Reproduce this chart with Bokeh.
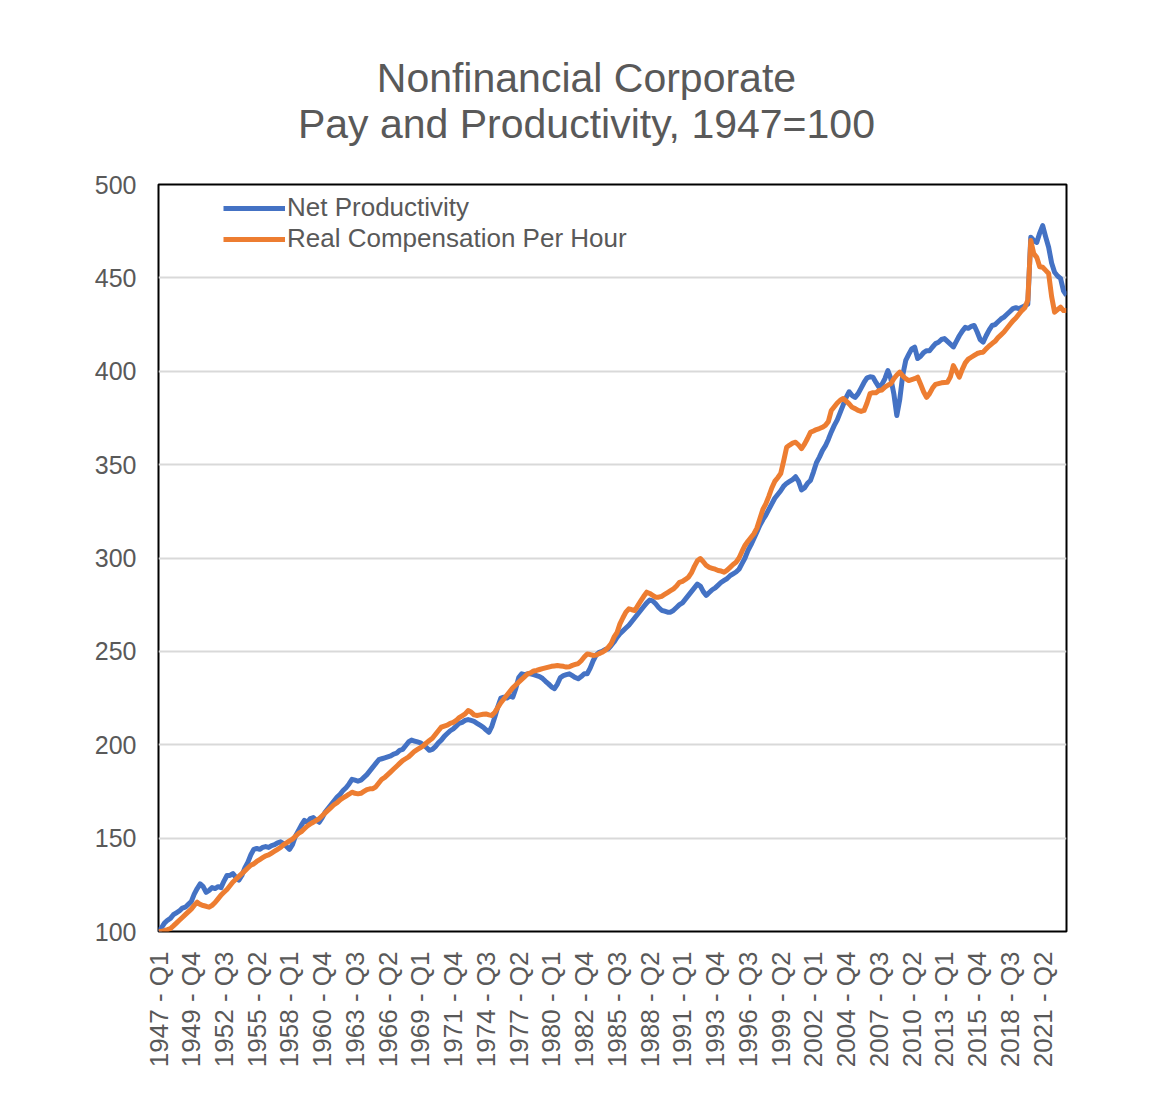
import math
from bokeh.plotting import figure
from bokeh.layouts import column
from bokeh.models import Range1d, FixedTicker, Legend, LegendItem
from bokeh.core.properties import value
from bokeh.embed import file_html
from bokeh.resources import INLINE

# ---- data (quarterly, 1947 Q1 .. 2023 Q2), index 1947 = 100 ----
net_productivity = [
    100, 102, 104.5, 106,          # 1947
    107, 109, 110, 111,            # 1948
    112.5, 113, 114.5, 116,        # 1949
    120, 123, 125.5, 124,          # 1950
    121, 122, 123.5, 123,          # 1951
    124, 123.5, 127, 130,          # 1952
    130, 131, 129, 127.5,          # 1953
    130, 134, 137, 141,            # 1954
    144, 144.5, 144, 145,          # 1955
    145.5, 145, 146, 146.5,        # 1956
    147.5, 148, 147, 145.5,        # 1957
    144, 146.5, 151, 154,          # 1958
    157, 159.5, 158.5, 160.5,      # 1959
    161, 159.5, 158.5, 161,        # 1960
    164, 166, 168, 170,            # 1961
    172, 173.5, 175.5, 177,        # 1962
    179, 181.5, 181, 180.5,        # 1963
    181, 182.5, 184, 186,          # 1964
    188, 190, 192, 192.5,          # 1965
    193, 193.5, 194, 195,          # 1966
    195.5, 197, 197.5, 199.5,      # 1967
    201.5, 202.5, 202, 201.5,      # 1968
    201, 200, 198.5, 197,          # 1969
    197.5, 199, 201, 202.5,        # 1970
    204.5, 206, 207.5, 208.5,      # 1971
    210, 211.5, 212, 213,          # 1972
    213.5, 213, 212.5, 211.5,      # 1973
    210.5, 209.5, 208, 206.7,      # 1974
    210, 215, 220.5, 225,          # 1975
    225.5, 225, 226, 225.5,        # 1976
    230, 236, 238, 237.5,          # 1977
    238, 238, 237.5, 237,          # 1978
    236.5, 235.5, 234, 232.6,      # 1979
    231, 230, 232.5, 236,          # 1980
    237, 237.5, 238, 237,          # 1981
    236, 235.3, 236.5, 238,        # 1982
    238, 241, 245, 248,            # 1983
    249.5, 250, 251, 251.3,        # 1984
    253, 255, 257.5, 259.5,        # 1985
    261, 262.5, 264, 266,          # 1986
    268, 270, 272, 274,            # 1987
    276, 277.5, 277, 275.5,        # 1988
    273.5, 272, 271.5, 271,        # 1989
    271, 272, 273.5, 275,          # 1990
    276, 278, 280, 282,            # 1991
    284, 286, 285, 282,            # 1992
    280, 281.5, 283, 284,          # 1993
    285.5, 287, 288, 289,          # 1994
    290.5, 291.5, 292.5, 294,      # 1995
    297, 300, 304, 307,            # 1996
    310.5, 314, 317.5, 320.5,      # 1997
    323, 326, 329, 332,            # 1998
    334, 336, 338.5, 340,          # 1999
    341, 342, 343.5, 341,          # 2000
    336.5, 337.5, 340, 341.5,      # 2001
    346, 351, 354, 357.5,          # 2002
    360, 363.5, 367.5, 371,        # 2003
    374, 378, 382, 386,            # 2004
    389, 387, 386, 388,            # 2005
    391, 394, 396.5, 397,          # 2006
    396.8, 394, 391.5, 393,        # 2007
    396, 400.4, 396, 388,          # 2008
    376.3, 385, 398, 405.8,        # 2009
    409, 412, 412.9, 406.8,        # 2010
    408, 410, 411, 411,            # 2011
    413, 414.8, 415.5, 417,        # 2012
    417.5, 416, 414.5, 413,        # 2013
    416, 419, 421.5, 423.5,        # 2014
    423, 424, 424.5, 421,          # 2015
    417, 415.6, 419, 422,          # 2016
    424.5, 425, 426.5, 428,        # 2017
    429, 430.5, 432, 433.5,        # 2018
    434, 433.5, 434.3, 435,        # 2019
    436, 471.8, 470, 469,          # 2020
    474, 478, 472, 466.4,          # 2021
    458, 453, 451, 449.7,          # 2022
    443, 440.6,                    # 2023
]

real_comp_per_hour = [
    100, 100, 100.5, 101,          # 1947
    101.6, 103, 104.5, 106,        # 1948
    107.5, 109, 110.5, 112,        # 1949
    114, 115.7, 114.5, 113.9,      # 1950
    113.5, 113, 114, 115.5,        # 1951
    117.5, 119.5, 121, 122.5,      # 1952
    124.5, 126.5, 128, 129.5,      # 1953
    131, 132.5, 134, 135.5,        # 1954
    136.2, 137.5, 138.5, 139.5,    # 1955
    140.5, 141, 142, 143,          # 1956
    144, 145, 146.5, 147.5,        # 1957
    148.5, 149.5, 151, 152.5,      # 1958
    153.5, 155, 156.5, 157.6,      # 1959
    158.5, 159.5, 160.5, 162,      # 1960
    163.5, 165, 166.5, 168,        # 1961
    169, 170.5, 171.5, 172.5,      # 1962
    173.5, 174.6, 174, 173.7,      # 1963
    174, 175, 176, 176.4,          # 1964
    176.5, 177.5, 179.5, 181.5,    # 1965
    182.5, 184, 185.5, 187,        # 1966
    188.5, 190, 191.5, 192.5,      # 1967
    193.5, 195, 196.5, 197.5,      # 1968
    198.5, 199.5, 201, 202.3,      # 1969
    203.5, 205.5, 207.5, 209.4,    # 1970
    210, 210.5, 211.5, 212,        # 1971
    213, 214.5, 215.5, 216.5,      # 1972
    218.3, 217.5, 216, 215.7,      # 1973
    216, 216.3, 216.5, 216,        # 1974
    215.7, 217.5, 220, 222.5,      # 1975
    224.5, 226.5, 228.5, 230.5,    # 1976
    232, 233.5, 235, 236.5,        # 1977
    238, 238.5, 239.5, 239.8,      # 1978
    240.3, 240.8, 241.2, 241.6,    # 1979
    242, 242.2, 242.4, 242.2,      # 1980
    242, 241.6, 241.8, 242.5,      # 1981
    243, 243.5, 245, 247,          # 1982
    248.6, 248.3, 247.8, 248,      # 1983
    248.8, 249.5, 250.5, 252,      # 1984
    254, 257.6, 260, 264.7,        # 1985
    268, 271, 272.8, 272.3,        # 1986
    271.9, 274.5, 277, 279.5,      # 1987
    281.7, 281, 280, 279,          # 1988
    279, 279.5, 280.5, 281.5,      # 1989
    282.5, 283.5, 285, 287,        # 1990
    287.5, 288.5, 289.7, 292,      # 1991
    295.5, 298.5, 299.7, 298,      # 1992
    296, 295, 294.5, 294,          # 1993
    293.3, 293, 292.4, 293.5,      # 1994
    295, 296.5, 297.7, 300,        # 1995
    303.5, 306.7, 309, 311,        # 1996
    313, 316, 321, 326,            # 1997
    329, 333, 337.5, 341,          # 1998
    343, 345.2, 352, 359.3,        # 1999
    360.5, 361.5, 362, 360.5,      # 2000
    358.6, 361, 364, 367.3,        # 2001
    368, 368.8, 369.3, 370,        # 2002
    371, 373, 379, 381,            # 2003
    383, 384.5, 385.4, 384,        # 2004
    382.5, 380.7, 380, 379,        # 2005
    378.5, 379, 383, 388,          # 2006
    388.5, 388.5, 389.7, 390,      # 2007
    391.5, 392.5, 393.4, 396,      # 2008
    398, 399.5, 397.5, 396,        # 2009
    395, 395.5, 396, 396.8,        # 2010
    393, 389, 386, 388,            # 2011
    391, 393, 393.4, 393.8,        # 2012
    394, 394.1, 397, 403,          # 2013
    400, 396.8, 401, 404.5,        # 2014
    406.5, 407.5, 408.5, 409.5,    # 2015
    410, 410.2, 412, 413.5,        # 2016
    414.8, 416, 418, 419.5,        # 2017
    421, 423, 425, 427,            # 2018
    428.5, 430.5, 432.5, 434,      # 2019
    438, 470, 463, 461,            # 2020
    456, 455.7, 454, 452.3,        # 2021
    440, 431.6, 433, 434.3,        # 2022
    432.5, 432.5,                  # 2023
]

tick_labels = [
    "1947 - Q1", "1949 - Q4", "1952 - Q3", "1955 - Q2", "1958 - Q1", "1960 - Q4",
    "1963 - Q3", "1966 - Q2", "1969 - Q1", "1971 - Q4", "1974 - Q3", "1977 - Q2",
    "1980 - Q1", "1982 - Q4", "1985 - Q3", "1988 - Q2", "1991 - Q1", "1993 - Q4",
    "1996 - Q3", "1999 - Q2", "2002 - Q1", "2004 - Q4", "2007 - Q3", "2010 - Q2",
    "2013 - Q1", "2015 - Q4", "2018 - Q3", "2021 - Q2",
]
y_ticks = [100, 150, 200, 250, 300, 350, 400, 450, 500]
title_lines = ["Nonfinancial Corporate", "Pay and Productivity, 1947=100"]

quarters = [f"{1947 + i // 4} - Q{i % 4 + 1}" for i in range(len(net_productivity))]
idx = list(range(len(quarters)))
tick_pos = [quarters.index(t) for t in tick_labels]

FONT = "Liberation Sans"
GRAY = "#595959"
W = 1150
TITLE_H = 168

# ---- title strip (a separate figure holding the two centred title lines) ----
t = figure(width=W, height=TITLE_H, output_backend="svg", toolbar_location=None,
           x_range=Range1d(0, W), y_range=Range1d(0, TITLE_H),
           x_axis_location=None, y_axis_location=None, min_border=0)
t.grid.visible = False
t.outline_line_color = None
t.text(x=[542, 542], y=[91, 45], text=title_lines, text_align="center",
       text_baseline="alphabetic", text_font=value(FONT), text_font_size="41px",
       text_color=GRAY)

# ---- main chart ----
p = figure(width=W, height=1100 - TITLE_H, output_backend="svg", toolbar_location=None,
           title=None, x_range=Range1d(0, len(quarters) - 1), y_range=Range1d(100, 500),
           min_border_left=158, min_border_right=84, min_border_top=16,
           min_border_bottom=169)

r1 = p.line(idx, net_productivity, line_width=5, color="#4472C4", line_join="round")
r2 = p.line(idx, real_comp_per_hour, line_width=5, color="#ED7D31", line_join="round")

p.outline_line_color = "black"
p.outline_line_width = 2
p.background_fill_color = "white"
p.border_fill_color = "white"

p.xgrid.visible = False
p.ygrid.ticker = FixedTicker(ticks=y_ticks)
p.ygrid.grid_line_color = "#d9d9d9"
p.ygrid.grid_line_width = 2

p.yaxis.ticker = FixedTicker(ticks=y_ticks)
p.yaxis.axis_line_color = None
p.yaxis.major_tick_line_color = None
p.yaxis.minor_tick_line_color = None
p.yaxis.major_label_text_font = FONT
p.yaxis.major_label_text_font_size = "25px"
p.yaxis.major_label_text_color = GRAY
p.yaxis.major_label_standoff = 16

p.xaxis.ticker = FixedTicker(ticks=tick_pos)
p.xaxis.major_label_overrides = {pos: lab for pos, lab in zip(tick_pos, tick_labels)}
p.xaxis.major_label_orientation = math.pi / 2
p.xaxis.axis_line_color = None
p.xaxis.major_tick_line_color = None
p.xaxis.minor_tick_line_color = None
p.xaxis.major_label_text_font = FONT
p.xaxis.major_label_text_font_size = "26px"
p.xaxis.major_label_text_color = GRAY
p.xaxis.major_label_standoff = 14

legend = Legend(items=[LegendItem(label="Net Productivity", renderers=[r1]),
                       LegendItem(label="Real Compensation Per Hour", renderers=[r2])],
                location=(65, 677), glyph_width=62, glyph_height=30, label_height=30,
                label_standoff=2, spacing=0, padding=0, margin=0,
                border_line_color=None, background_fill_alpha=0,
                label_text_font=FONT, label_text_font_size="26px",
                label_text_color=GRAY)
p.add_layout(legend)

layout = column(t, p, spacing=0)
open("out.html", "w").write(file_html(layout, INLINE))
